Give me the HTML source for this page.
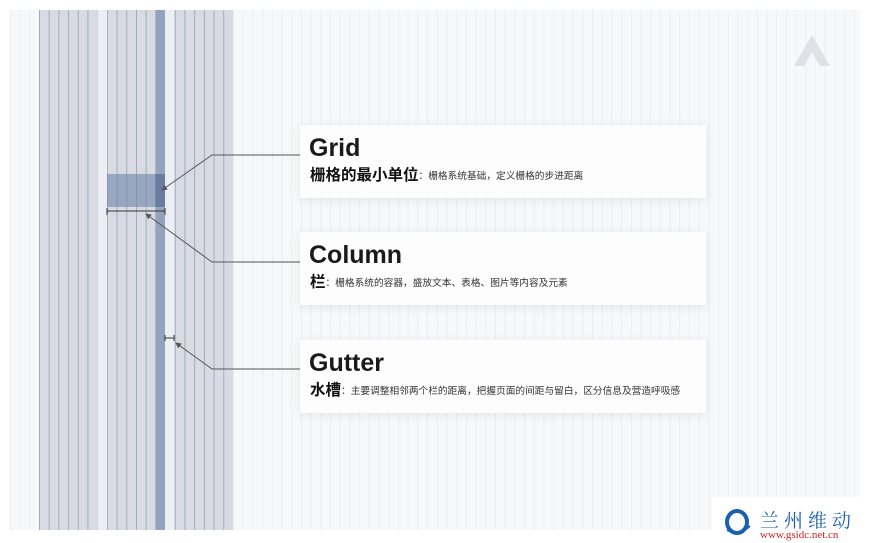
<!DOCTYPE html>
<html><head><meta charset="utf-8"><style>
body{margin:0;width:870px;height:543px;overflow:hidden;background:#fff;font-family:"Liberation Sans","Noto Sans CJK SC",sans-serif;position:relative}
.card{position:absolute;left:300px;width:406px;height:73px;background:#fdfdfe;box-shadow:0 2px 10px rgba(0,0,0,0.08)}
.t{position:absolute;left:9px;top:9px;font-size:25px;color:#1a1a1a;font-weight:bold}
.s{position:absolute;left:10px;top:41px;font-size:9.7px;color:#333;white-space:nowrap;line-height:20px}
.s b{font-size:15.5px;color:#111;vertical-align:-1px}
</style></head><body>
<svg width="870" height="543" style="position:absolute;left:0;top:0">
<defs>
<pattern id="bg" x="10" y="0" width="9.7" height="10" patternUnits="userSpaceOnUse"><rect width="9.7" height="10" fill="#f7f8fa"/><rect x="0" width="0.8" height="10" fill="#e9ebf0"/></pattern>
<pattern id="gr" x="39" y="0" width="9.7" height="10" patternUnits="userSpaceOnUse"><rect width="9.7" height="10" fill="#d8dbe1"/><rect x="0" width="0.9" height="10" fill="#9aa6bf"/></pattern>
<marker id="a" markerWidth="6" markerHeight="6" refX="5" refY="3" orient="auto"><path d="M0,0 L6,3 L0,6z" fill="#555"/></marker>
</defs>
<rect x="10" y="10" width="850" height="520" fill="url(#bg)"/>
<rect x="39" y="10" width="194" height="520" fill="url(#gr)"/>
<rect x="97.5" y="10" width="9.5" height="520" fill="#eceef3"/>
<rect x="165" y="10" width="9.5" height="520" fill="#eceef3"/>
<rect x="155.4" y="10" width="9.6" height="520" fill="#93a3bd"/>
<rect x="107" y="174" width="58" height="33" fill="#6e84a8" opacity="0.6"/>
<rect x="155.4" y="174" width="9.6" height="33" fill="#5b7199" opacity="0.6"/>
<path d="M107,211 H165 M107,208 V215 M165,208 V215" stroke="#333" stroke-width="1"/>
<path d="M165,338 H174 M165,335 V341 M174,335 V341" stroke="#333" stroke-width="1"/>
<path d="M300,155 H212 L162,190" stroke="#555" fill="none" marker-end="url(#a)"/>
<path d="M300,262 H212 L146,214" stroke="#555" fill="none" marker-end="url(#a)"/>
<path d="M300,369 H212 L176,343" stroke="#555" fill="none" marker-end="url(#a)"/>
<path d="M812,35 L830,66 L820,66 L812,52 L804,66 L794,66z" fill="#dfe1e6"/>
<rect x="712" y="497" width="158" height="46" fill="#fff"/>
<ellipse cx="737" cy="522" rx="10" ry="11" fill="none" stroke="#1b5fae" stroke-width="4"/>
<path d="M727,530 Q739,536 750,526" stroke="#1b5fae" stroke-width="2" fill="none"/>
</svg>
<div class="card" style="top:125px"><div class="t">Grid</div><div class="s"><b>栅格的最小单位</b>：栅格系统基础，定义栅格的步进距离</div></div>
<div class="card" style="top:232px"><div class="t">Column</div><div class="s"><b>栏</b>：栅格系统的容器，盛放文本、表格、图片等内容及元素</div></div>
<div class="card" style="top:340px"><div class="t">Gutter</div><div class="s"><b>水槽</b>：主要调整相邻两个栏的距离，把握页面的间距与留白，区分信息及营造呼吸感</div></div>
<div style="position:absolute;left:760px;top:506px;font-size:19px;color:#1b5fae;letter-spacing:5px;font-family:'Noto Serif CJK SC',serif">兰州维动</div>
<div style="position:absolute;left:760px;top:529px;font-size:11px;color:#d02020;font-family:'Liberation Serif',serif">www.gsidc.net.cn</div>
</body></html>
